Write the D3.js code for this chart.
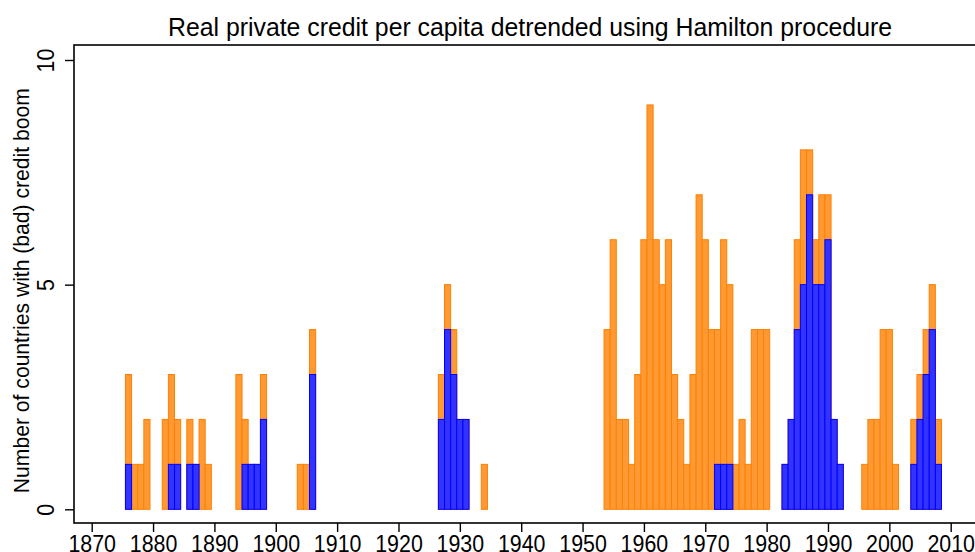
<!DOCTYPE html>
<html>
<head>
<meta charset="utf-8">
<script src="https://cdn.jsdelivr.net/npm/d3@7"></script>
<style>
  html, body { margin: 0; padding: 0; background: #fff; }
  svg { display: block; font-family: "Liberation Sans", Arial, Helvetica, sans-serif; }
</style>
</head>
<body>
<svg id="chart" width="975" height="552"></svg>
<script>
// Years with at least one credit boom
const years = [
  1876, 1877, 1878, 1879, 1882, 1883, 1884, 1886, 1887, 1888, 1889,
  1894, 1895, 1896, 1897, 1898, 1904, 1905, 1906,
  1927, 1928, 1929, 1930, 1931, 1934,
  1954, 1955, 1956, 1957, 1958, 1959, 1960, 1961, 1962, 1963, 1964, 1965,
  1966, 1967, 1968, 1969, 1970, 1971, 1972, 1973, 1974, 1975, 1976, 1977,
  1978, 1979, 1980,
  1983, 1984, 1985, 1986, 1987, 1988, 1989, 1990, 1991, 1992,
  1996, 1997, 1998, 1999, 2000, 2001,
  2004, 2005, 2006, 2007, 2008
];

// Number of countries with a credit boom in each year
const boomCounts = [
  3, 1, 1, 2, 2, 3, 2, 2, 1, 2, 1,
  3, 2, 1, 1, 3, 1, 1, 4,
  3, 5, 4, 2, 2, 1,
  4, 6, 2, 2, 1, 3, 6, 9, 6, 5, 6, 3,
  2, 1, 3, 7, 6, 4, 4, 6, 5, 1, 2, 1,
  4, 4, 4,
  1, 2, 6, 8, 8, 6, 7, 7, 2, 1,
  1, 2, 2, 4, 4, 1,
  2, 3, 4, 5, 2
];

// Number of countries with a bad credit boom in each year
const badBoomCounts = [
  1, 0, 0, 0, 0, 1, 1, 1, 1, 0, 0,
  0, 1, 1, 1, 2, 0, 0, 3,
  2, 4, 3, 2, 2, 0,
  0, 0, 0, 0, 0, 0, 0, 0, 0, 0, 0, 0,
  0, 0, 0, 0, 0, 0, 1, 1, 1, 0, 0, 0,
  0, 0, 0,
  1, 2, 4, 5, 7, 5, 5, 6, 2, 1,
  0, 0, 0, 0, 0, 0,
  1, 2, 3, 4, 1
];

const xTickValues = [1870, 1880, 1890, 1900, 1910, 1920, 1930, 1940, 1950,
                     1960, 1970, 1980, 1990, 2000, 2010];
const yTickValues = [0, 5, 10];

const titleText = "Real private credit per capita detrended using Hamilton procedure";
const yTitleText = "Number of countries with (bad) credit boom";

const svg = d3.select("#chart");

// Plot region (the right edge runs past the visible area)
const plot = { left: 74, top: 45, right: 986, bottom: 523 };

const x = d3.scaleLinear().domain([1870, 2010]).range([91.7, 950.7]);
const y = d3.scaleLinear().domain([0, 10]).range([509.3, 60]);

const rows = years.map((yr, i) => ({ year: yr, all: boomCounts[i], bad: badBoomCounts[i] }));

// All booms (orange)
svg.append("g")
  .selectAll("rect")
  .data(rows)
  .join("rect")
  .attr("x", d => x(d.year - 0.5))
  .attr("width", d => x(d.year + 0.5) - x(d.year - 0.5))
  .attr("y", d => y(d.all))
  .attr("height", d => y(0) - y(d.all))
  .attr("fill", "#ff9933")
  .attr("stroke", "#ff8000")
  .attr("stroke-width", 1);

// Bad booms (blue), drawn over the orange bars
svg.append("g")
  .selectAll("rect")
  .data(rows.filter(d => d.bad > 0))
  .join("rect")
  .attr("x", d => x(d.year - 0.5))
  .attr("width", d => x(d.year + 0.5) - x(d.year - 0.5))
  .attr("y", d => y(d.bad))
  .attr("height", d => y(0) - y(d.bad))
  .attr("fill", "#3333ff")
  .attr("stroke", "#0000ff")
  .attr("stroke-width", 1);

// Plot box
svg.append("rect")
  .attr("x", plot.left)
  .attr("y", plot.top)
  .attr("width", plot.right - plot.left)
  .attr("height", plot.bottom - plot.top)
  .attr("fill", "none")
  .attr("stroke", "#000")
  .attr("stroke-width", 1.6);

// Narrow-set digits: width per character of the tick labels
const digitAdvance = 11.9;

// X axis
const xAxis = svg.append("g")
  .attr("transform", `translate(0,${plot.bottom})`)
  .call(d3.axisBottom(x).tickValues(xTickValues).tickFormat(d3.format("d")).tickSize(9));
xAxis.select(".domain").remove();
xAxis.selectAll(".tick line").attr("stroke", "#000").attr("stroke-width", 1.4);
xAxis.selectAll(".tick text")
  .attr("font-size", 23.5)
  .attr("font-family", "Liberation Sans, Arial, sans-serif")
  .attr("fill", "#000")
  .attr("y", 28.8)
  .attr("dy", null)
  .attr("textLength", function () { return this.textContent.length * digitAdvance; })
  .attr("lengthAdjust", "spacingAndGlyphs");

// Y axis
const yAxis = svg.append("g")
  .attr("transform", `translate(${plot.left},0)`)
  .call(d3.axisLeft(y).tickValues(yTickValues).tickFormat(d3.format("d")).tickSize(9));
yAxis.select(".domain").remove();
yAxis.selectAll(".tick line").attr("stroke", "#000").attr("stroke-width", 1.4);
yAxis.selectAll(".tick text")
  .attr("font-size", 23.5)
  .attr("font-family", "Liberation Sans, Arial, sans-serif")
  .attr("fill", "#000")
  .attr("text-anchor", "middle")
  .attr("dy", null)
  .attr("x", null)
  .attr("textLength", function () { return this.textContent.length * digitAdvance; })
  .attr("lengthAdjust", "spacingAndGlyphs")
  .attr("transform", "translate(-20,0) rotate(-90)");

// Y axis title
svg.append("text")
  .attr("transform", `translate(29,${(y(0) + y(10)) / 2 + 6}) rotate(-90)`)
  .attr("text-anchor", "middle")
  .attr("font-size", 22)
  .attr("fill", "#000")
  .attr("textLength", 405)
  .attr("lengthAdjust", "spacingAndGlyphs")
  .text(yTitleText);

// Title
svg.append("text")
  .attr("x", (plot.left + plot.right) / 2)
  .attr("y", 36)
  .attr("text-anchor", "middle")
  .attr("font-size", 25)
  .attr("fill", "#000")
  .attr("textLength", 724)
  .attr("lengthAdjust", "spacingAndGlyphs")
  .text(titleText);
</script>
</body>
</html>
